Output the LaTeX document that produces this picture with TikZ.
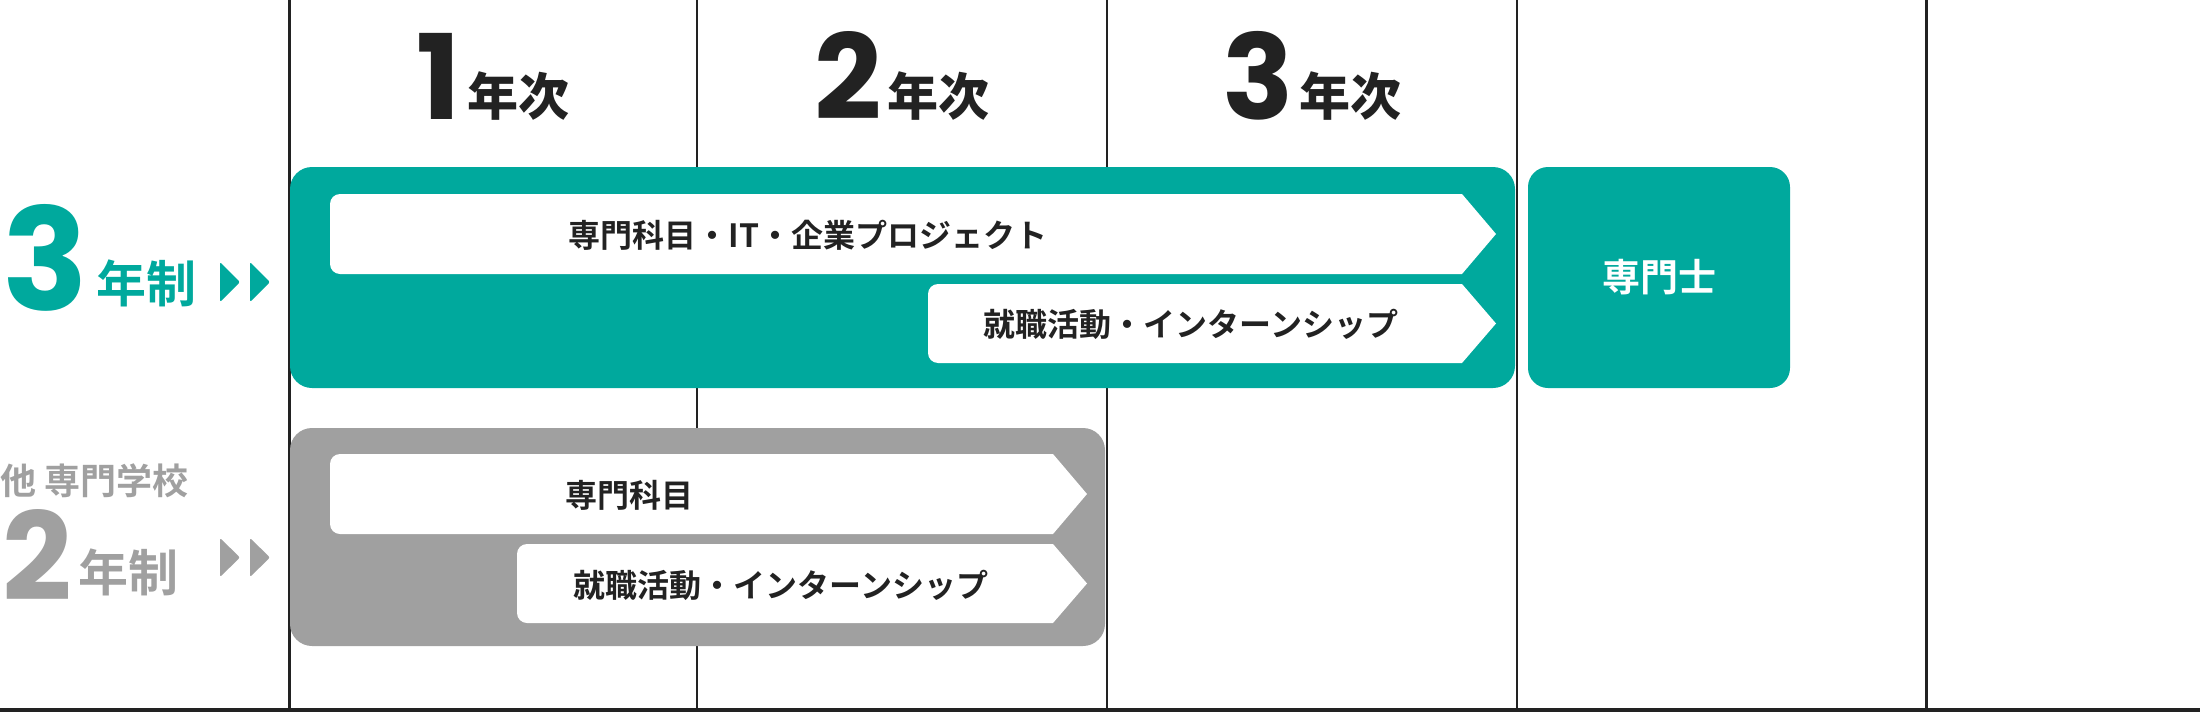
\documentclass[tikz,border=0pt]{standalone}
\usepackage{fontspec}
\usepackage{tikz}
\usetikzlibrary{positioning}
\newfontfamily\jpfont{Noto Sans CJK JP Bold}
\newfontfamily\numfont{Poppins}
\definecolor{teal3}{HTML}{00A99D}
\definecolor{gray2}{HTML}{A0A0A0}
\definecolor{ink}{HTML}{222222}
\newcommand{\fsz}[1]{\fontsize{#1}{#1}\selectfont}
% white tag: left, top, right, bottom
\newcommand{\tagshape}[4]{%
  \fill[white] (#3-34,#2) -- (#3,{(#2+#4)/2}) -- (#3-34,#4)
    [rounded corners=10pt] -- (#1,#4) -- (#1,#2) -- (#3-34,#2);}

\begin{document}
\begin{tikzpicture}[x=1pt,y=-1pt,
  tagtext/.style={font=\jpfont\fsz{32},text=ink,inner sep=0pt},
  bigbox/.style={rounded corners=22pt}]
\useasboundingbox (0,0) rectangle (2200,712);
% grid
\foreach \x in {289.5,697,1107,1517,1926.5}
  \draw[ink,line width=2.5pt] (\x,0) -- (\x,708);
\draw[ink,line width=4pt] (0,710) -- (2200,710);

% year heads
\foreach \n/\x in {1/493,2/902,3/1312}
  \node[inner sep=0pt,anchor=base,text=ink] (year\n) at (\x,119)
    {\numfont\bfseries\fsz{118}\n\hspace{6pt}\raisebox{4pt}{\jpfont\fsz{51}年次}};

% 3-year course
\fill[teal3,bigbox] (290,167) rectangle (1515,388);
\tagshape{330}{194}{1496}{274}
\tagshape{928}{284}{1496}{363}
\node[tagtext] (t3main) at (808,235) {専門科目・IT・企業プロジェクト};
\node[tagtext] (t3job) at (1191,324) {就職活動・インターンシップ};
\node[fill=teal3,rounded corners=20pt,minimum width=262pt,minimum height=221pt,
  inner sep=0pt,text=white,font=\jpfont\fsz{38}] (degree) at (1659,277.5) {専門士};

% other school, 2-year course
\fill[gray2,bigbox] (290,428) rectangle (1105,646);
\tagshape{330}{454}{1087}{534}
\tagshape{517}{544}{1087}{623}
\node[tagtext] (t2main) at (629,495) {専門科目};
\node[tagtext] (t2job) at (781,585) {就職活動・インターンシップ};

% left labels
\node[inner sep=0pt,anchor=base west,text=teal3,font=\numfont\bfseries\fsz{142}] (k3) at (2,310) {3};
\node[inner sep=0pt,anchor=base west,text=teal3,font=\jpfont\fsz{50}] (k3unit) at (96,302) {年制};
\node[inner sep=0pt,anchor=base west,text=gray2,font=\jpfont\fsz{36}] (other) at (0,494) {他 専門学校};
\node[inner sep=0pt,anchor=base west,text=gray2,font=\numfont\bfseries\fsz{122}] (k2) at (2,600) {2};
\node[inner sep=0pt,anchor=base west,text=gray2,font=\jpfont\fsz{50}] (k2unit) at (78,591) {年制};
\foreach \x in {220,250} {
  \fill[teal3,rounded corners=2pt] (\x,262) -- (\x+20,282) -- (\x,302) -- cycle;
  \fill[gray2,rounded corners=2pt] (\x,538) -- (\x+20,557.5) -- (\x,577) -- cycle;
}
\end{tikzpicture}
\end{document}
